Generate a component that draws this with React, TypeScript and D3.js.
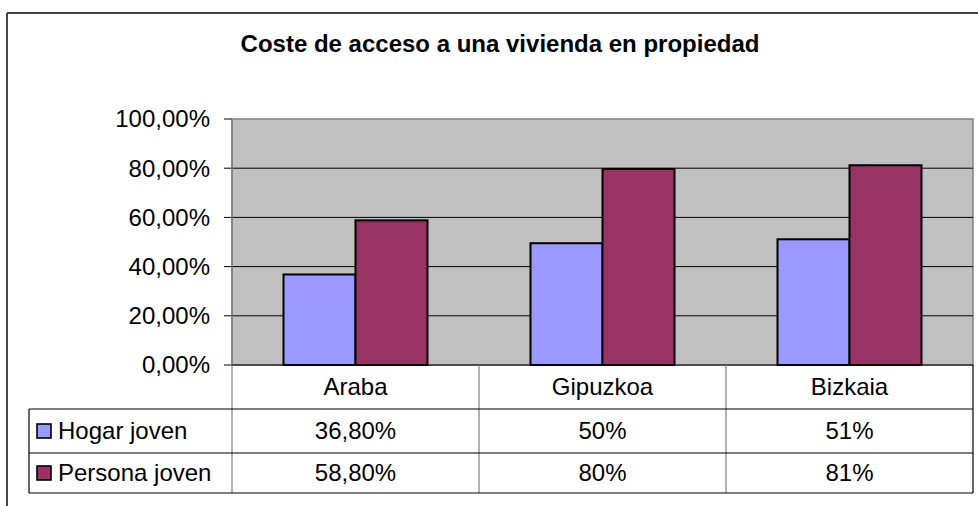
import React from "react";
import * as d3 from "d3";

const title = "Coste de acceso a una vivienda en propiedad";
const categories = ["Araba", "Gipuzkoa", "Bizkaia"];
const seriesNames = ["Hogar joven", "Persona joven"];
const hogarValues = [0.368, 0.495, 0.511];
const personaValues = [0.588, 0.797, 0.812];
const hogarLabels = ["36,80%", "50%", "51%"];
const personaLabels = ["58,80%", "80%", "81%"];
const yTicks = [0, 0.2, 0.4, 0.6, 0.8, 1.0];
const seriesColors = ["#9999FF", "#993366"];

const W = 978;
const H = 506;
const plot = { left: 232, right: 973, top: 119, bottom: 365 };
const table = { left: 29, right: 973, rowLines: [365, 409, 453, 493] };
const FONT = "'Liberation Sans', Arial, Helvetica, sans-serif";

const locale = d3.formatLocale({
  decimal: ",",
  thousands: ".",
  grouping: [3],
  currency: ["", "€"],
  percent: "%",
} as any);
const fmt = locale.format(".2%");

export default function App() {
  const y = d3.scaleLinear().domain([0, 1]).range([plot.bottom, plot.top]);
  const x0 = d3
    .scaleBand<string>()
    .domain(categories)
    .range([plot.left, plot.right])
    .paddingInner(0.417)
    .paddingOuter(0.2085);
  const x1 = d3
    .scaleBand<string>()
    .domain(seriesNames)
    .range([0, x0.bandwidth()])
    .padding(0);
  const seriesValues = [hogarValues, personaValues];
  const seriesLabels = [hogarLabels, personaLabels];
  const step = x0.step();
  const colStart = (i: number) => plot.left + i * step;

  return (
    <svg
      width={W}
      height={H}
      style={{ position: "absolute", left: 0, top: 0, background: "#fff" }}
      fontFamily={FONT}
    >
      {/* outer chart border (cropped right/bottom) */}
      <line x1={7} y1={13} x2={W + 2} y2={13} stroke="#000" strokeWidth={1.5} />
      <line x1={7} y1={13} x2={7} y2={H + 2} stroke="#333" strokeWidth={1.8} />

      <text x={500} y={52} textAnchor="middle" fontSize={24} fontWeight="bold" fill="#000">
        {title}
      </text>

      {/* plot area */}
      <rect
        x={plot.left}
        y={plot.top}
        width={plot.right - plot.left}
        height={plot.bottom - plot.top}
        fill="#C0C0C0"
        stroke="#808080"
        strokeWidth={1.5}
      />
      {yTicks.map((t) => (
        <g key={t}>
          {t > 0 && t < 1 && (
            <line x1={plot.left} x2={plot.right} y1={y(t)} y2={y(t)} stroke="#000" strokeWidth={1} />
          )}
          <line x1={plot.left - 8} x2={plot.left} y1={y(t)} y2={y(t)} stroke="#000" strokeWidth={1} />
          <text x={210} y={y(t)} dy="0.35em" textAnchor="end" fontSize={24} fill="#000">
            {fmt(t)}
          </text>
        </g>
      ))}
      <line x1={plot.left} x2={plot.left} y1={plot.top} y2={plot.bottom} stroke="#808080" strokeWidth={1.5} />

      {/* bars */}
      {categories.map((c, i) => (
        <g key={c}>
          {seriesNames.map((s, k) => {
            const v = seriesValues[k][i];
            return (
              <rect
                key={s}
                x={(x0(c) as number) + (x1(s) as number)}
                y={y(v)}
                width={x1.bandwidth()}
                height={y(0) - y(v)}
                fill={seriesColors[k]}
                stroke="#000"
                strokeWidth={2}
              />
            );
          })}
        </g>
      ))}
      <line x1={plot.left} x2={plot.right} y1={plot.bottom} y2={plot.bottom} stroke="#000" strokeWidth={1} />

      {/* data table */}
      {categories.map((c, i) => (
        <line
          key={"hv" + c}
          x1={colStart(i)}
          x2={colStart(i)}
          y1={table.rowLines[0]}
          y2={table.rowLines[3]}
          stroke="#808080"
          strokeWidth={1.2}
        />
      ))}
      <line x1={table.right} x2={table.right} y1={table.rowLines[0]} y2={table.rowLines[3]} stroke="#000" strokeWidth={1.2} />
      <line x1={table.left} x2={table.left} y1={table.rowLines[1]} y2={table.rowLines[3]} stroke="#000" strokeWidth={1.2} />
      {[1, 2, 3].map((r) => (
        <line
          key={"hl" + r}
          x1={table.left}
          x2={table.right}
          y1={table.rowLines[r]}
          y2={table.rowLines[r]}
          stroke="#000"
          strokeWidth={1.2}
        />
      ))}
      {categories.map((c, i) => (
        <text
          key={"ct" + c}
          x={colStart(i) + step / 2}
          y={(table.rowLines[0] + table.rowLines[1]) / 2}
          dy="0.35em"
          textAnchor="middle"
          fontSize={24}
          fill="#000"
        >
          {c}
        </text>
      ))}
      {seriesNames.map((s, k) => {
        const yMid = (table.rowLines[k + 1] + table.rowLines[k + 2]) / 2;
        return (
          <g key={"row" + s}>
            <rect x={37} y={yMid - 7} width={14} height={14} fill={seriesColors[k]} stroke="#000" strokeWidth={1.6} />
            <text x={58} y={yMid} dy="0.35em" fontSize={24} fill="#000">
              {s}
            </text>
            {categories.map((c, i) => (
              <text
                key={c}
                x={colStart(i) + step / 2}
                y={yMid}
                dy="0.35em"
                textAnchor="middle"
                fontSize={24}
                fill="#000"
              >
                {seriesLabels[k][i]}
              </text>
            ))}
          </g>
        );
      })}
    </svg>
  );
}
